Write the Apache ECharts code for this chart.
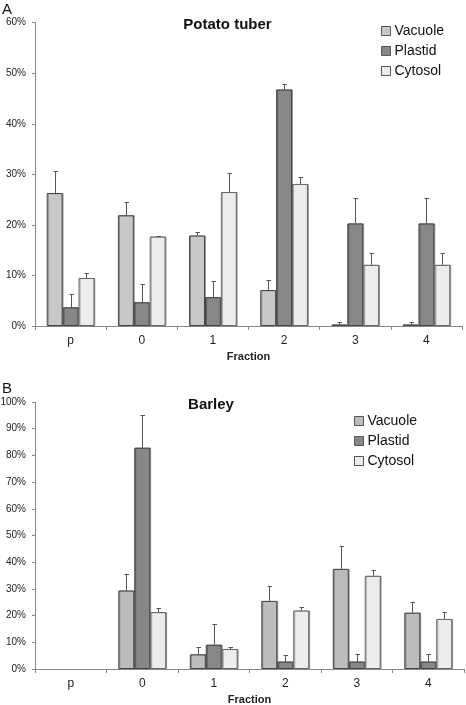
<!DOCTYPE html>
<html>
<head>
<meta charset="utf-8">
<script src="https://cdn.jsdelivr.net/npm/echarts@6/dist/echarts.min.js"></script>
<style>
html,body{margin:0;padding:0;background:#fff;}
#chart{width:466px;height:705px;}
</style>
</head>
<body>
<div id="chart"></div>
<script>
const categories = ['p', '0', '1', '2', '3', '4'];
const seriesNames = ['Vacuole', 'Plastid', 'Cytosol'];

const potatoVacuole    = [26.3, 21.9, 17.9, 7.1, 0.3, 0.3];
const potatoVacuoleErr = [4.4, 2.6, 0.6, 2.0, 0.4, 0.4];
const potatoPlastid    = [3.7, 4.7, 5.7, 46.8, 20.3, 20.3];
const potatoPlastidErr = [2.7, 3.6, 3.2, 1.0, 5.0, 5.0];
const potatoCytosol    = [9.5, 17.7, 26.5, 28.1, 12.1, 12.1];
const potatoCytosolErr = [1.0, 0.1, 3.8, 1.3, 2.3, 2.3];

const barleyVacuole    = [null, 29.4, 5.5, 25.5, 37.5, 21.1];
const barleyVacuoleErr = [null, 6.2, 2.7, 5.4, 8.6, 4.0];
const barleyPlastid    = [null, 82.9, 9.1, 2.8, 2.8, 2.8];
const barleyPlastidErr = [null, 12.1, 7.9, 2.3, 3.0, 3.0];
const barleyCytosol    = [null, 21.3, 7.5, 21.9, 34.9, 18.75];
const barleyCytosolErr = [null, 1.7, 0.9, 1.2, 2.1, 2.6];

const FONT = '"Liberation Sans", Arial, sans-serif';
const GAP = 0.33;
const colorsTop = ['#c8c8c8', '#878787', '#ececec'];
const colorsBot = ['#bcbcbc', '#878787', '#ececec'];
const borderCols = ['#444', '#444', '#666'];

function barSeries(name, data, gi, si, colors) {
  return {
    type: 'bar', name: name, data: data,
    xAxisIndex: gi, yAxisIndex: gi,
    barGap: '0%', barCategoryGap: (GAP * 100) + '%',
    itemStyle: {
      color: colors[si], borderColor: borderCols[si], borderWidth: 1,
      shadowColor: 'rgba(0,0,0,0.3)', shadowOffsetX: 1, shadowOffsetY: 0, shadowBlur: 0
    },
    emphasis: { disabled: true },
    silent: true
  };
}

function errSeries(values, errs, gi, si) {
  const data = [];
  values.forEach(function (v, i) {
    if (v !== null && errs[i] !== null) data.push([i, v, errs[i]]);
  });
  return {
    type: 'custom', xAxisIndex: gi, yAxisIndex: gi, silent: true, z: 5,
    data: data,
    renderItem: function (params, api) {
      const cat = api.value(0), v = api.value(1), e = api.value(2);
      const base = api.coord([cat, v]);
      const top = api.coord([cat, v + e]);
      const catW = api.size([1, 0])[0];
      const barW = catW * (1 - GAP) / 3;
      const x = Math.round(base[0] + (si - 1) * barW) + 0.5;
      const ty = Math.round(top[1]) + 0.5;
      const st = { stroke: '#555', lineWidth: 1 };
      return {
        type: 'group',
        children: [
          { type: 'line', shape: { x1: x, y1: base[1], x2: x, y2: ty }, style: st },
          { type: 'line', shape: { x1: x - 2, y1: ty, x2: x + 2.5, y2: ty }, style: st }
        ]
      };
    }
  };
}

function xAxis(gi) {
  return {
    type: 'category', gridIndex: gi, data: categories,
    axisLine: { lineStyle: { color: '#888', width: 1 } },
    axisTick: { show: true, alignWithLabel: false, length: 4, lineStyle: { color: '#888' } },
    axisLabel: { color: '#222', fontSize: 12, fontFamily: FONT, margin: 9 },
    name: 'Fraction', nameLocation: 'middle', nameGap: 25,
    nameTextStyle: { color: '#222', fontSize: 11, fontWeight: 'bold', fontFamily: FONT }
  };
}

function yAxis(gi, max) {
  return {
    type: 'value', gridIndex: gi, min: 0, max: max, interval: 10,
    axisLine: { show: true, lineStyle: { color: '#888', width: 1 } },
    axisTick: { show: true, length: 3, lineStyle: { color: '#888' } },
    splitLine: { show: false },
    axisLabel: { color: '#222', fontSize: 10, fontFamily: FONT, margin: 9, formatter: '{value}%' }
  };
}

function legend(left, top, colors) {
  return {
    orient: 'vertical', left: left, top: top, itemGap: 6,
    itemWidth: 9, itemHeight: 9, icon: 'rect', selectedMode: false,
    textStyle: { fontSize: 14, color: '#111', fontFamily: FONT, padding: [0, 0, 0, -1] },
    data: seriesNames.map(function (n, i) {
      return { name: n, itemStyle: { color: colors[i], borderColor: '#555', borderWidth: 1 } };
    })
  };
}

const option = {
  animation: false,
  backgroundColor: '#fff',
  grid: [
    { left: 35, right: 4, top: 22.7, height: 303.3, outerBoundsMode: 'none', containLabel: false },
    { left: 35, right: 2, top: 402, height: 267, outerBoundsMode: 'none', containLabel: false }
  ],
  xAxis: [xAxis(0), xAxis(1)],
  yAxis: [yAxis(0, 60), yAxis(1, 100)],
  legend: [legend(376, 19, colorsTop), legend(349, 409, colorsBot)],
  graphic: [
    { type: 'text', left: 2, top: 2, style: { text: 'A', font: '15px ' + FONT, fill: '#111' } },
    { type: 'text', left: 2, top: 381, style: { text: 'B', font: '15px ' + FONT, fill: '#111' } },
    { type: 'text', x: 227.5, y: 25, style: { text: 'Potato tuber', font: 'bold 15px ' + FONT, fill: '#111', align: 'center', verticalAlign: 'middle' } },
    { type: 'text', x: 211, y: 405, style: { text: 'Barley', font: 'bold 15px ' + FONT, fill: '#111', align: 'center', verticalAlign: 'middle' } }
  ],
  series: [
    barSeries('Vacuole', potatoVacuole, 0, 0, colorsTop),
    barSeries('Plastid', potatoPlastid, 0, 1, colorsTop),
    barSeries('Cytosol', potatoCytosol, 0, 2, colorsTop),
    errSeries(potatoVacuole, potatoVacuoleErr, 0, 0),
    errSeries(potatoPlastid, potatoPlastidErr, 0, 1),
    errSeries(potatoCytosol, potatoCytosolErr, 0, 2),
    barSeries('Vacuole', barleyVacuole, 1, 0, colorsBot),
    barSeries('Plastid', barleyPlastid, 1, 1, colorsBot),
    barSeries('Cytosol', barleyCytosol, 1, 2, colorsBot),
    errSeries(barleyVacuole, barleyVacuoleErr, 1, 0),
    errSeries(barleyPlastid, barleyPlastidErr, 1, 1),
    errSeries(barleyCytosol, barleyCytosolErr, 1, 2)
  ]
};

const chart = echarts.init(document.getElementById('chart'), null, { renderer: 'canvas' });
chart.setOption(option);
</script>
</body>
</html>
